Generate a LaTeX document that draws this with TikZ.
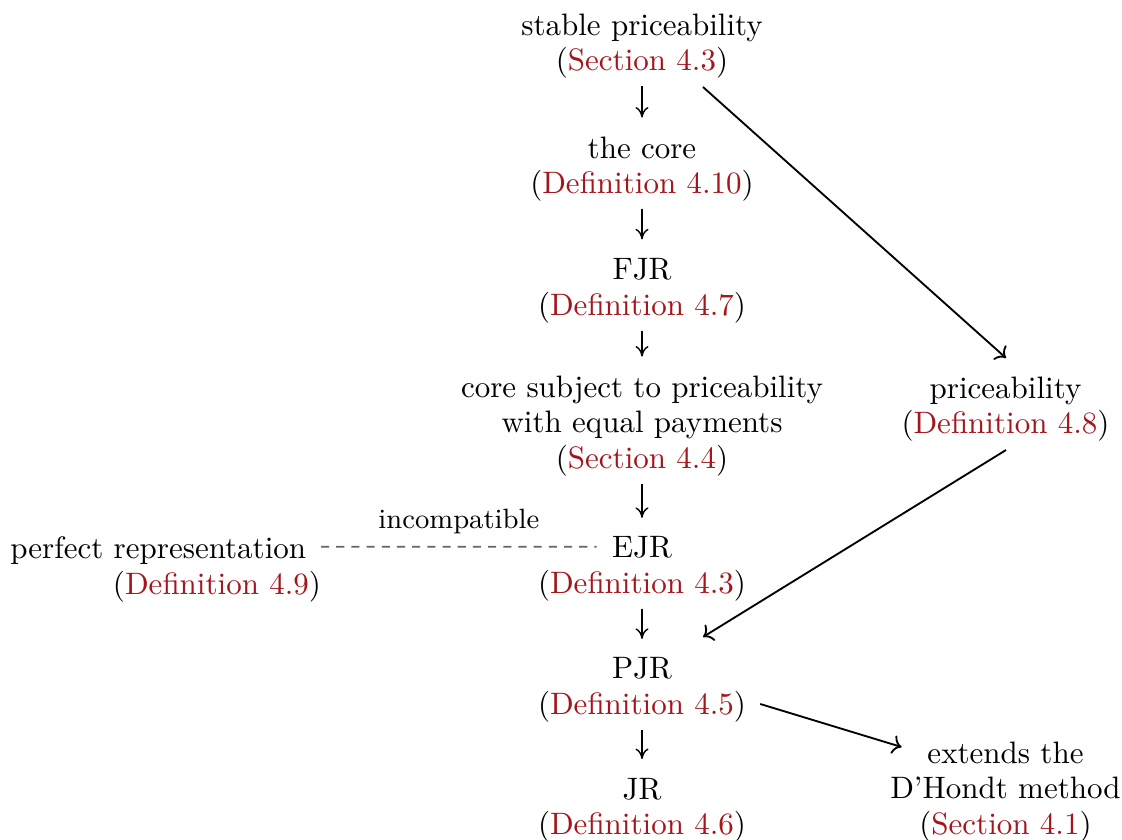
\documentclass[tikz,border=0pt]{standalone}
\usetikzlibrary{calc,arrows.meta}
\definecolor{refred}{RGB}{162,22,28}
\definecolor{dashgray}{RGB}{100,100,100}
\newcommand\myref[1]{(\textcolor{refred}{#1})}
\begin{document}
\begin{tikzpicture}[x=0.32258pt, y=-0.32258pt,
  box/.style={align=center, inner sep=0pt, outer sep=0pt, anchor=north, font=\fontsize{10}{11.5}\selectfont},
  impl/.style={-{To[length=3.4pt, width=4.2pt]}, line width=0.45pt, shorten <=2.5pt, shorten >=6.1pt},
  diag/.style={->, line width=0.6pt},
  incomp/.style={dash pattern=on 2.6pt off 2.3pt, draw=dashgray, line width=0.55pt}]
\useasboundingbox (0,0) rectangle (1122,839);

\node[box] (sp) at (642,13.5) {stable priceability\\\myref{Section 4.3}};
\node[box] (core) at (642,136.5) {the core\\\myref{Definition 4.10}};
\node[box] (fjr) at (642,258.3) {FJR\\\myref{Definition 4.7}};
\node[box] (cs) at (642,375.5) {core subject to priceability\\with equal payments\\\myref{Section 4.4}};
\node[box] (ejr) at (642,536.8) {EJR\\\myref{Definition 4.3}};
\node[box] (pjr) at (642,657.8) {PJR\\\myref{Definition 4.5}};
\node[box] (jr) at (642,778) {JR\\\myref{Definition 4.6}};
\node[box] (pr) at (1005.5,376.5) {priceability\\\myref{Definition 4.8}};
\node[box, align=right, anchor=north east] (prep) at (321,536.5) {perfect representation\hspace*{4.8pt}\\\myref{Definition 4.9}};
\node[box] (ext) at (1005.5,741.5) {extends the\\D'Hondt method\\\myref{Section 4.1}};

\draw[impl] (sp.south) -- (core.north);
\draw[impl] (core.south) -- (fjr.north);
\draw[impl] (fjr.south) -- (cs.north);
\draw[impl] (cs.south) -- (ejr.north);
\draw[impl] (ejr.south) -- (pjr.north);
\draw[impl] (pjr.south) -- (jr.north);

\draw[diag] ($(sp.south)+(61,8.6)$) -- ($(pr.north)+(0.5,-18.5)$);
\draw[diag] ($(pr.south)+(0.5,8.6)$) -- ($(pjr.north)+(61,-20.8)$);
\draw[diag] ($(pjr.south east)+(14.2,-18.4)$) -- ($(ext.north west)+(11.3,5.5)$);

\draw[incomp] ($(prep.north east)+(0,10.2)$) -- node[above, font=\small, inner sep=4pt] (inc) {incompatible} ($(ejr.north)+(-45.3,10)$);
\end{tikzpicture}
\end{document}
